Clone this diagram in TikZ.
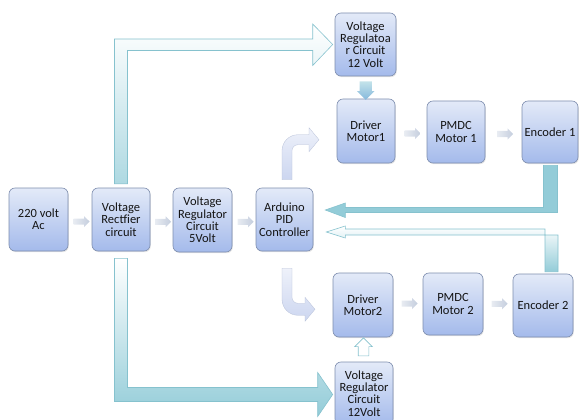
\documentclass[tikz,border=0pt]{standalone}
\usepackage{fontspec}
\setmainfont{Carlito}
\usetikzlibrary{calc,shapes.arrows,shadows}

\definecolor{boxtop}{HTML}{E3EAF8}
\definecolor{boxbot}{HTML}{A4BAEB}
\definecolor{boxline}{HTML}{7D8DAE}
\definecolor{tealfill}{HTML}{93CCD8}
\definecolor{tealline}{HTML}{86C2CE}
\definecolor{lavtop}{HTML}{EEF1FA}
\definecolor{lavbot}{HTML}{CCD6F0}
\definecolor{chevl}{HTML}{E8ECF2}
\definecolor{chevr}{HTML}{C5CEDE}

\tikzset{
  block/.style={rectangle, rounded corners=6pt, draw=boxline, line width=0.6pt,
    top color=boxtop, bottom color=boxbot, minimum width=59pt, minimum height=63pt,
    inner sep=0pt, align=center, text=black!92, font=\fontsize{12.5}{12.4}\selectfont,
    drop shadow={opacity=0.2, shadow xshift=0.8pt, shadow yshift=-1.2pt}},
  smallarr/.style={single arrow, inner sep=2.8pt, minimum height=16pt,
    single arrow head extend=2.5pt, left color=chevl, right color=chevr, draw=none},
  bigarr/.style={draw=tealline, line width=0.6pt, top color=white, bottom color=tealfill},
  bentarr/.style={draw=lavbot!90!black, line width=0.3pt, top color=lavtop, bottom color=lavbot}
}

\begin{document}
\begin{tikzpicture}[x=1pt,y=-1pt]
	%%%%% START %%%%%
	\useasboundingbox (0,0) rectangle (579,420);
	\clip (0,0) rectangle (579,420);
	
	% main row
	\node[block] (ac) at (38.5,219.5) {220 volt\\Ac};
	\node[block, minimum width=58pt] (rect) at (121,219.5) {Voltage\\Rectfier\\circuit};
	\node[block, minimum height=64pt] (reg5) at (202.5,220) {Voltage\\Regulator\\Circuit\\5Volt};
	\node[block, minimum width=57pt] (ard) at (284.5,219.5) {Arduino\\PID\\Controller};
	
	% motor 1
	\node[block, minimum width=61pt] (regA) at (365.5,44.5) {Voltage\\Regulatoa\\r Circuit\\12 Volt};
	\node[block, minimum width=58pt, minimum height=64pt] (drv1) at (366,131) {Driver\\Motor1};
	\node[block, minimum width=58pt, minimum height=62pt] (pm1) at (456,132) {PMDC\\Motor 1};
	\node[block, minimum width=56pt, minimum height=62pt] (enc1) at (550,132) {Encoder 1};
	
	% motor 2
	\node[block, minimum width=60pt, minimum height=64pt] (drv2) at (363,305) {Driver\\Motor2};
	\node[block, minimum width=60pt, minimum height=62pt] (pm2) at (453,304) {PMDC\\Motor 2};
	\node[block, minimum width=60pt] (enc2) at (543,305.5) {Encoder 2};
	\node[block, minimum width=58pt] (regB) at (364,393.5) {Voltage\\Regulator\\Circuit\\12Volt};
	
	% small arrows
	\node[smallarr] (a1) at ($(ac.east)!0.5!(rect.west)+(0,2)$) {};
	\node[smallarr] (a2) at ($(rect.east)!0.5!(reg5.west)+(0,2)$) {};
	\node[smallarr] (a3) at ($(reg5.east)!0.5!(ard.west)+(0,2)$) {};
	\node[smallarr] (a4) at ($(drv1.east)!0.5!(pm1.west)+(0,2)$) {};
	\node[smallarr] (a5) at ($(pm1.east)!0.5!(enc1.west)+(0,2)$) {};
	\node[smallarr] (a6) at ($(drv2.east)!0.5!(pm2.west)+(0,-1)$) {};
	\node[smallarr] (a7) at ($(pm2.east)!0.5!(enc2.west)+(0,-1)$) {};
	
	\node[single arrow, shape border rotate=270, inner sep=6pt, minimum height=17pt,
	  single arrow head extend=2.5pt, top color=tealfill!55!white, bottom color=tealfill!90!blue] (d1) at ($(regA.south)!0.5!(drv1.north)$) {};
	\node[single arrow, shape border rotate=90, inner sep=5pt, minimum height=18pt,
	  single arrow head extend=3.5pt, fill=white, draw=tealline, line width=0.6pt] (u2) at ($(drv2.south)!0.5!(regB.north)$) {};
	
	% supply arrows from the rectifier
	\coordinate (t1) at ($(regA.west)+(-2,0)$);
	\shade[bigarr, middle color=white, bottom color=tealfill!75!white]
	  ($(rect.north)+(-6.5,-4)$) |- ($(t1)+(-20,-5.5)$) -- ++(0,-15) -- (t1)
	  -- ++(-20,21) -- ++(0,-15) -| ($(rect.north)+(6.5,-4)$) -- cycle;
	\coordinate (t2) at ($(regB.west)+(-2,1)$);
	\shade[bigarr]
	  ($(rect.south)+(-6.5,7)$) |- ($(t2)+(-15,7)$) -- ++(0,15) -- (t2)
	  -- ++(-15,-22) -- ++(0,15) -| ($(rect.south)+(6.5,7)$) -- cycle;
	
	% feedback from the encoders
	\coordinate (t3) at ($(ard.east)+(12,-9.5)$);
	\draw[draw=tealline, fill=tealfill, line width=0.6pt]
	  ($(enc1.south)+(-6.5,2)$) -- ++(14,0) |- ($(t3)+(20,2.5)$) -- ++(0,5) -- (t3)
	  -- ++(20,-7) -- ++(0,4.5) -| ($(enc1.south)+(-6.5,2)$) -- cycle;
	\coordinate (t4) at ($(ard.east)+(13,12.5)$);
	\shade[bigarr]
	  ($(enc2.north)+(2,-2)$) |- ($(t4)+(19,-3)$) -- ++(0,-3) -- (t4)
	  -- ++(19,6) -- ++(0,-3) -| ($(enc2.north)+(15,-2)$) -- cycle;
	
	% bent arrows from the controller
	\shade[bentarr] ($(ard.north)+(-2.5,-8)$) -- ++(0,-29) arc (180:270:16) -- ++(11,0)
	  -- ++(0,-7) -- ++(10,12) -- ++(-10,12) -- ++(0,-7) -- ++(-11,0) arc (270:180:6)
	  -- ++(0,29) -- cycle;
	\shade[bentarr] ($(ard.south)+(-2.5,17)$) -- ++(0,31) arc (180:90:16) -- ++(7,0)
	  -- ++(0,6) -- ++(10,-12) -- ++(-10,-12) -- ++(0,6) -- ++(-7,0) arc (90:180:6)
	  -- ++(0,-29) -- cycle;
	
	%%%%% END %%%%%
\end{tikzpicture}
\end{document}
